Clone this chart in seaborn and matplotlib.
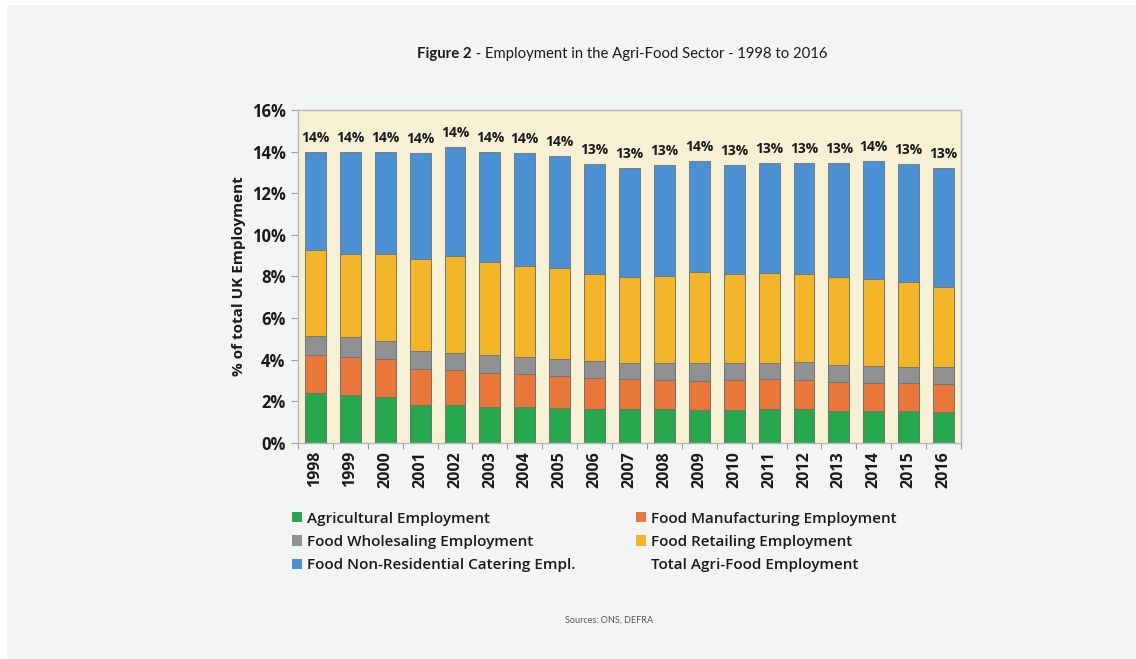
import numpy as np
import pandas as pd
import matplotlib
matplotlib.use("Agg")
import matplotlib.pyplot as plt
from matplotlib.patches import Patch, Rectangle
from matplotlib.lines import Line2D
from matplotlib.ticker import FuncFormatter, FixedLocator
import seaborn as sns

# Share of total UK employment (%) by agri-food sub-sector
years = [str(y) for y in range(1998, 2017)]
agricultural = [2.37, 2.29, 2.18, 1.80, 1.80, 1.70, 1.70, 1.67, 1.64, 1.60,
                1.60, 1.57, 1.57, 1.60, 1.62, 1.54, 1.51, 1.51, 1.46]
manufacturing = [1.85, 1.85, 1.83, 1.76, 1.68, 1.65, 1.59, 1.55, 1.45, 1.46,
                 1.41, 1.40, 1.44, 1.45, 1.39, 1.36, 1.34, 1.34, 1.35]
wholesaling = [0.93, 0.94, 0.90, 0.85, 0.85, 0.85, 0.81, 0.80, 0.84, 0.79,
               0.81, 0.85, 0.81, 0.80, 0.85, 0.84, 0.85, 0.81, 0.81]
retailing = [4.10, 4.01, 4.18, 4.41, 4.66, 4.49, 4.41, 4.40, 4.20, 4.13,
             4.21, 4.37, 4.29, 4.31, 4.27, 4.24, 4.17, 4.08, 3.88]
catering = [4.75, 4.91, 4.91, 5.10, 5.25, 5.31, 5.41, 5.38, 5.27, 5.23,
            5.34, 5.38, 5.23, 5.27, 5.30, 5.49, 5.70, 5.68, 5.69]

series_names = ["Agricultural Employment", "Food Manufacturing Employment",
                "Food Wholesaling Employment", "Food Retailing Employment",
                "Food Non-Residential Catering Empl."]
series_values = [agricultural, manufacturing, wholesaling, retailing, catering]
series_colors = ["#27a84f", "#e9793a", "#8f9193", "#f3b52a", "#4a90d2"]
total_label = "Total Agri-Food Employment"

df = pd.DataFrame({"year": years})
for name, vals in zip(series_names, series_values):
    df[name] = vals
cum = df[series_names].cumsum(axis=1)
df["total"] = cum[series_names[-1]]

sns.set_theme(style="white")
plt.rcParams["font.family"] = ["Open Sans", "DejaVu Sans"]

W, H = 1136, 659
fig = plt.figure(figsize=(W / 100, H / 100), dpi=100, facecolor="white")
# light page panel behind the chart
fig.patches.append(Rectangle((7 / W, 0), 1 - 7 / W, 1 - 5 / H,
                             transform=fig.transFigure, facecolor="#f3f4f6",
                             edgecolor="none", zorder=-5))

ax = fig.add_axes([298 / W, 1 - 442.7 / H, (961 - 298) / W, (442.7 - 110) / H])
ax.set_facecolor("#f6f1d4")

# stacked bars: draw cumulative heights from the tallest layer down
for i in range(len(series_names) - 1, -1, -1):
    sns.barplot(x=df["year"], y=cum[series_names[i]], color=series_colors[i],
                saturation=1, width=0.6, edgecolor="#707070", linewidth=0.6,
                order=years, ax=ax, zorder=2)

for xi, tot in enumerate(df["total"]):
    ax.annotate(f"{int(np.floor(tot + 0.5))}%", (xi, tot), xytext=(0, 5),
                textcoords="offset points", ha="center", va="bottom",
                fontsize=10, fontweight="bold", color="#1a1a1a")

ax.set_ylim(0, 16)
ax.set_xlim(-0.5, len(years) - 0.5)
ax.set_yticks(np.arange(0, 17, 2))
ax.yaxis.set_major_formatter(FuncFormatter(lambda v, p: f"{v:.0f}%"))
ax.tick_params(axis="y", which="major", length=5, width=0.8, color="#9a9a9a",
               labelsize=12, pad=4, left=True)
ax.tick_params(axis="x", which="major", length=0, labelsize=11.5, pad=6,
               labelrotation=90)
ax.xaxis.set_minor_locator(FixedLocator(np.arange(-0.5, len(years), 1)))
ax.tick_params(axis="x", which="minor", length=4, width=0.8, color="#9a9a9a",
               bottom=True)
for lab in ax.get_xticklabels() + ax.get_yticklabels():
    lab.set_fontweight("bold")
    lab.set_color("#1a1a1a")
ax.set_xlabel("")
ax.set_ylabel("% of total UK Employment", fontsize=11, fontweight="bold",
              color="#1a1a1a", labelpad=4)
for sp in ax.spines.values():
    sp.set_color("#b8b8b8")
    sp.set_linewidth(1.0)

# legend: two columns, the total entry has no swatch
handles = [Patch(facecolor=c, edgecolor="none") for c in series_colors]
blank = Line2D([], [], color="none")
order = [0, 2, 4, 1, 3]
leg_handles = [handles[i] for i in order] + [blank]
leg_labels = [series_names[i] for i in order] + [total_label]
leg = fig.legend(leg_handles, leg_labels, ncol=2, frameon=False,
                 loc="upper left", bbox_to_anchor=(278 / W, 1 - 498 / H),
                 handlelength=0.65, handleheight=0.65, handletextpad=0.35,
                 columnspacing=3.95, labelspacing=0.6,
                 prop={"size": 11, "weight": "semibold"})
for t in leg.get_texts():
    t.set_color("#1a1a1a")

# title with bold figure number
fig.canvas.draw()
renderer = fig.canvas.get_renderer()
t1 = fig.text(417 / W, 1 - 54 / H, "Figure 2", fontsize=10.75,
              fontweight="bold", family=["Lato", "DejaVu Sans"],
              color="#1a1a1a", va="center", ha="left")
bb = t1.get_window_extent(renderer=renderer)
fig.text(bb.x1 / W, 1 - 54 / H, " - Employment in the Agri-Food Sector - 1998 to 2016",
         fontsize=10.75, family=["Lato", "DejaVu Sans"], color="#1a1a1a",
         va="center", ha="left")

fig.text(609 / W, 1 - 620 / H, "Sources: ONS, DEFRA", fontsize=6.5,
         family=["Lato", "DejaVu Sans"], color="#555555", ha="center",
         va="center")

fig.savefig("out.png", dpi=100, facecolor=fig.get_facecolor())
